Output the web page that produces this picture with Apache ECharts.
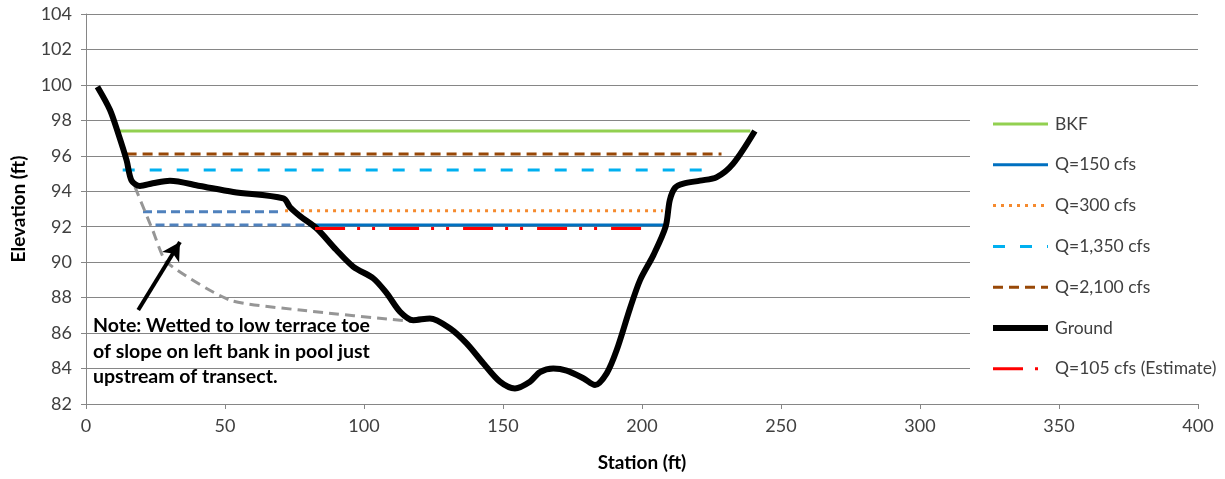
<!DOCTYPE html>
<html>
<head>
<meta charset="utf-8">
<script src="https://cdn.jsdelivr.net/npm/echarts@6/dist/echarts.min.js"></script>
<style>
html,body{margin:0;padding:0;background:#fff;}
#chart{width:1225px;height:479px;}
</style>
</head>
<body>
<div id="chart"></div>
<script>
// ---- data ----
const xTicks = [0, 50, 100, 150, 200, 250, 300, 350, 400];
const yTicks = [82, 84, 86, 88, 90, 92, 94, 96, 98, 100, 102, 104];

const groundStation = [4.1, 8.6, 11.6, 14.6, 16.4, 19.4, 24, 30.2, 41, 53, 71, 73.4, 77, 83, 90, 96.2, 103.4, 108.2, 113, 117.7, 123.7, 131, 136.9, 142.9, 148.9, 154.3, 159.7, 163.3, 168.1, 172.9, 178.9, 183.1, 187.3, 190.9, 195.7, 199.3, 204.1, 208.5, 210, 211.9, 214.9, 220.9, 226.9, 232.8, 240.6];
const groundElev    = [99.9, 98.6, 97.25, 95.75, 94.6, 94.3, 94.45, 94.6, 94.3, 93.96, 93.6, 93.1, 92.6, 91.9, 90.7, 89.74, 89.08, 88.24, 87.2, 86.73, 86.83, 86.26, 85.42, 84.3, 83.26, 82.88, 83.26, 83.8, 84.0, 83.88, 83.45, 83.07, 83.73, 85.04, 87.4, 88.99, 90.4, 92.0, 93.5, 94.2, 94.43, 94.6, 94.8, 95.56, 97.4];

const bkfStation = [11, 239];       const bkfElev = 97.4;
const q150Station = [80, 208];      const q150Elev = 92.1;
const q300Station = [71.6, 207.5];  const q300Elev = 92.9;
const q1350Station = [13.2, 225];   const q1350Elev = 95.2;
const q2100Station = [14.6, 228.6]; const q2100Elev = 96.1;
const q105Station = [82.4, 200];    const q105Elev = 91.9;

// left-bank wetted extensions (not in legend)
const ext300Station = [20.5, 70.5]; const ext300Elev = 92.85;
const ext150Station = [25, 79];     const ext150Elev = 92.1;

const terraceStation = [17.6, 24, 29, 51.8, 77, 117.6];
const terraceElev    = [94.25, 91.8, 90.0, 87.86, 87.3, 86.65];

const arrowFrom = [18.8, 87.3];
const arrowTo = [33.8, 91.14];

const noteText = 'Note: Wetted to low terrace toe\nof slope on left bank in pool just\nupstream of transect.';

const names = ['BKF', 'Q=150 cfs', 'Q=300 cfs', 'Q=1,350 cfs', 'Q=2,100 cfs', 'Ground', 'Q=105 cfs (Estimate)'];

// ---- build ----
const pair = (xs, y) => xs.map(x => [x, y]);
const zip = (xs, ys) => xs.map((x, i) => [x, ys[i]]);
const FONT = 'Lato, "Open Sans", sans-serif';

function lineSeries(name, data, color, width, type, extra) {
  return Object.assign({
    name: name,
    type: 'line',
    data: data,
    symbol: 'none',
    silent: true,
    animation: false,
    lineStyle: { color: color, width: width, type: type },
    itemStyle: { color: color }
  }, extra || {});
}

const series = [
  lineSeries('BKF', pair(bkfStation, bkfElev), '#92D050', 3, 'solid'),
  lineSeries('ext150', pair(ext150Station, ext150Elev), '#4F81BD', 3, [9, 5]),
  lineSeries('ext300', pair(ext300Station, ext300Elev), '#4F81BD', 3, [9, 5]),
  lineSeries('Q=150 cfs', pair(q150Station, q150Elev), '#0070C0', 3, 'solid'),
  lineSeries('Q=300 cfs', pair(q300Station, q300Elev), '#F58A2E', 3, [3, 5]),
  lineSeries('Q=1,350 cfs', pair(q1350Station, q1350Elev), '#00B0F0', 3, [12, 15]),
  lineSeries('Q=2,100 cfs', pair(q2100Station, q2100Elev), '#984807', 3, [10, 6]),
  lineSeries('terrace', zip(terraceStation, terraceElev), '#969696', 3, [10, 6], {
    smooth: 0.2,
    markLine: {
      silent: true,
      symbol: ['none', 'arrow'],
      symbolSize: [15, 18],
      label: { show: false },
      lineStyle: { color: '#000', width: 4, type: 'solid' },
      data: [[{ coord: arrowFrom }, { coord: arrowTo }]]
    }
  }),
  lineSeries('Ground', zip(groundStation, groundElev), '#000000', 6, 'solid', { smooth: 0.3, z: 3 }),
  lineSeries('Q=105 cfs (Estimate)', pair(q105Station, q105Elev), '#FF0000', 3, [30, 12, 3, 12, 3, 14], { z: 4 })
];

const chart = echarts.init(document.getElementById('chart'), null, { renderer: 'canvas' });
chart.setOption({
  backgroundColor: '#fff',
  animation: false,
  textStyle: { fontFamily: FONT },
  grid: { left: 86, right: 27, top: 14, bottom: 75, containLabel: false },
  xAxis: {
    type: 'value',
    min: xTicks[0], max: xTicks[xTicks.length - 1], interval: 50,
    name: 'Station (ft)', nameLocation: 'middle', nameGap: 49,
    nameTextStyle: { fontFamily: FONT, fontSize: 19, fontWeight: 'bold', color: '#000' },
    axisLine: { show: true, lineStyle: { color: '#868686', width: 1 } },
    axisTick: { show: true, length: 5, lineStyle: { color: '#868686' } },
    axisLabel: { fontFamily: FONT, fontSize: 18, color: '#404040', margin: 13 },
    splitLine: { show: false }
  },
  yAxis: {
    type: 'value',
    min: yTicks[0], max: yTicks[yTicks.length - 1], interval: 2,
    name: 'Elevation (ft)', nameLocation: 'middle', nameGap: 58,
    nameTextStyle: { fontFamily: FONT, fontSize: 19, fontWeight: 'bold', color: '#000' },
    axisLine: { show: true, lineStyle: { color: '#868686', width: 1 } },
    axisTick: { show: true, length: 5, lineStyle: { color: '#868686' } },
    axisLabel: { fontFamily: FONT, fontSize: 18, color: '#404040', margin: 14 },
    splitLine: { show: true, lineStyle: { color: '#868686', width: 1 } }
  },
  legend: {
    orient: 'vertical',
    left: 970, top: 103,
    padding: [12, 20, 8, 20],
    backgroundColor: '#fff',
    data: names,
    itemWidth: 55, itemHeight: 14, itemGap: 22.8,
    itemStyle: { opacity: 0, borderWidth: 0 },
    lineStyle: { width: 'inherit' },
    selectedMode: false,
    textStyle: { fontFamily: FONT, fontSize: 17.5, color: '#404040', padding: [0, 0, 0, 2] }
  },
  graphic: [{
    type: 'text',
    left: 93, top: 313,
    silent: true,
    style: { text: noteText, font: 'bold 19.5px ' + FONT, fill: '#000', lineHeight: 25.5 }
  }],
  series: series
});
</script>
</body>
</html>
